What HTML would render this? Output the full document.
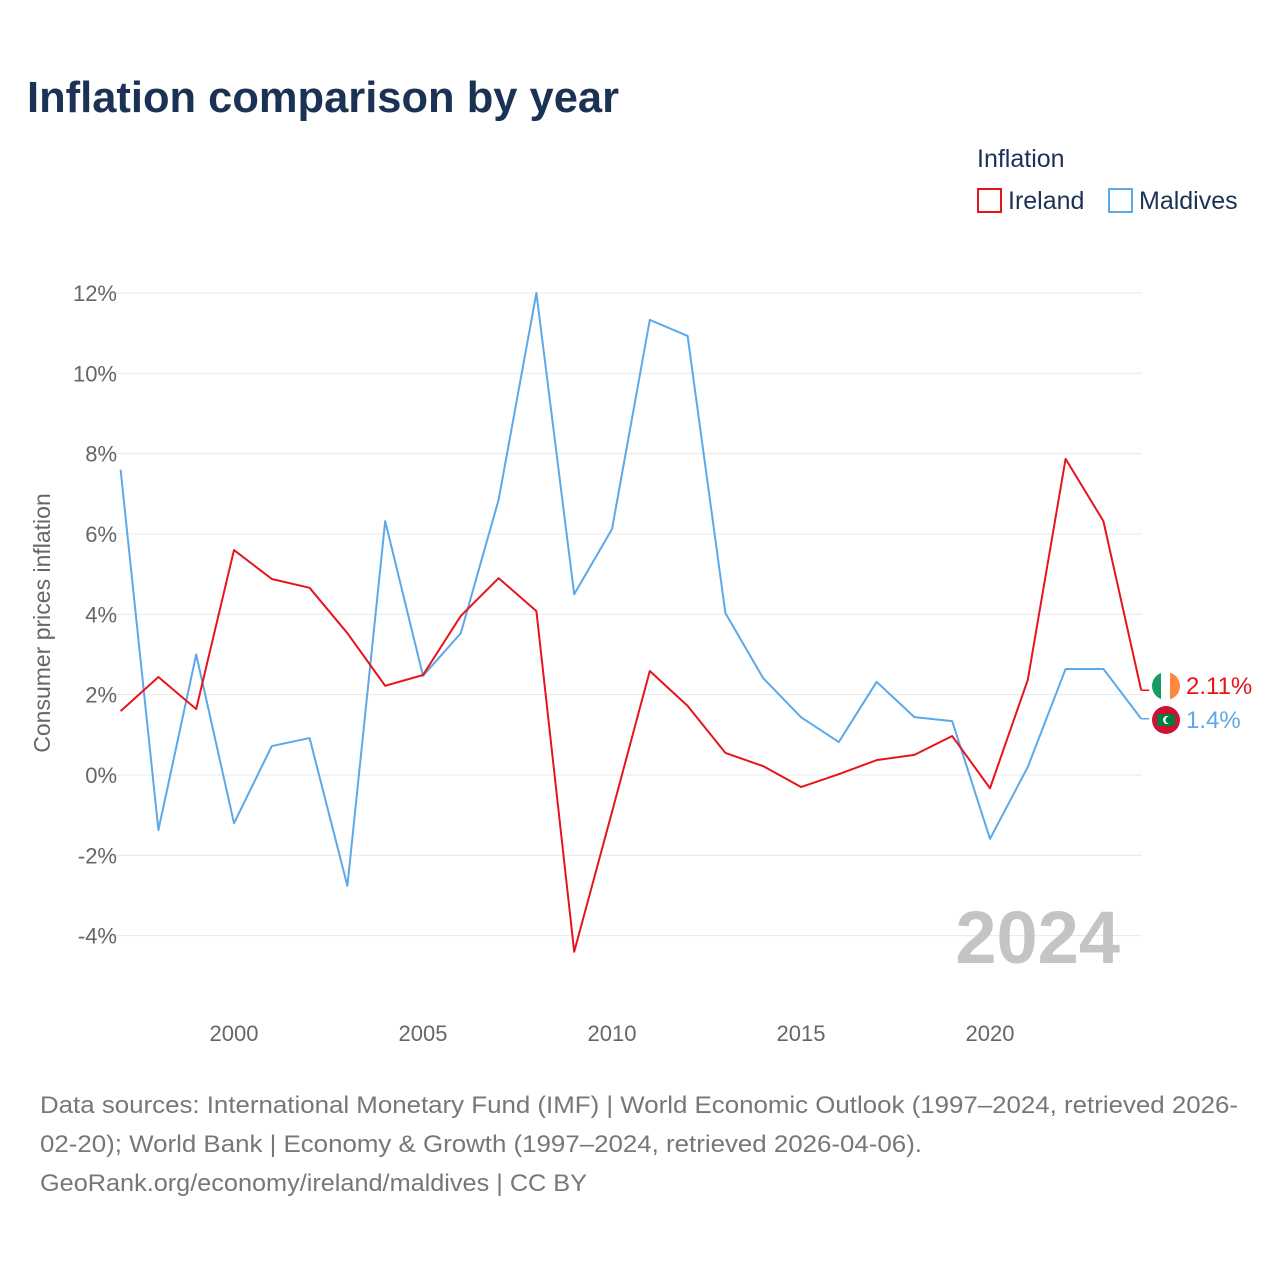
<!DOCTYPE html>
<html><head><meta charset="utf-8"><style>
body{margin:0;background:#fff;font-family:"Liberation Sans",sans-serif;}
</style></head><body>
<svg width="1280" height="1280" viewBox="0 0 1280 1280" xmlns="http://www.w3.org/2000/svg">
<text x="27" y="112" font-size="44" font-weight="bold" fill="#1b3254" textLength="592" lengthAdjust="spacingAndGlyphs">Inflation comparison by year</text>
<text x="977" y="167" font-size="25" fill="#1b3254">Inflation</text>
<g><rect x="978" y="189" width="23" height="23" fill="none" stroke="#e8141c" stroke-width="2"/><text x="1008" y="209" font-size="25" fill="#1b3254">Ireland</text></g>
<g><rect x="1109" y="189" width="23" height="23" fill="none" stroke="#5ca8e8" stroke-width="2"/><text x="1139" y="209" font-size="25" fill="#1b3254">Maldives</text></g>
<g id="grid"></g><g id="yticks"></g><g id="xticks"></g>
<text x="0" y="0" transform="translate(50,623) rotate(-90)" text-anchor="middle" font-size="23" fill="#666">Consumer prices inflation</text>
<text x="1120" y="963" text-anchor="end" font-size="74" font-weight="bold" fill="#c4c4c4">2024</text>
<g id="series"></g>
<g><clipPath id="c1"><circle cx="1166" cy="686" r="14"/></clipPath><g clip-path="url(#c1)"><rect x="1152" y="672" width="10" height="28" fill="#169b62"/><rect x="1161" y="672" width="10" height="28" fill="#fff"/><rect x="1170" y="672" width="10" height="28" fill="#ff883e"/></g></g>
<g><circle cx="1166" cy="720" r="14" fill="#d21034"/><rect x="1157" y="714" width="18" height="12" fill="#007e3a"/><circle cx="1167" cy="720" r="4" fill="#fff"/><circle cx="1169" cy="720" r="3.5" fill="#007e3a"/></g>
<text x="1186" y="694" font-size="24" fill="#e8141c">2.11%</text>
<text x="1186" y="728" font-size="24" fill="#5ca8e8">1.4%</text>
<text font-size="24" fill="#777"><tspan x="40" y="1113" textLength="1198" lengthAdjust="spacingAndGlyphs">Data sources: International Monetary Fund (IMF) | World Economic Outlook (1997–2024, retrieved 2026-</tspan><tspan x="40" y="1152" textLength="882" lengthAdjust="spacingAndGlyphs">02-20); World Bank | Economy &amp; Growth (1997–2024, retrieved 2026-04-06).</tspan><tspan x="40" y="1191" textLength="547" lengthAdjust="spacingAndGlyphs">GeoRank.org/economy/ireland/maldives | CC BY</tspan></text>
</svg>
<script>
const years=[1997,1998,1999,2000,2001,2002,2003,2004,2005,2006,2007,2008,2009,2010,2011,2012,2013,2014,2015,2016,2017,2018,2019,2020,2021,2022,2023,2024];
const ireland=[1.59,2.44,1.64,5.6,4.88,4.66,3.53,2.22,2.49,3.96,4.9,4.08,-4.4,-0.92,2.59,1.72,0.55,0.22,-0.3,0.02,0.37,0.5,0.97,-0.33,2.37,7.87,6.32,2.11];
const maldives=[7.6,-1.37,3.0,-1.2,0.72,0.92,-2.76,6.32,2.47,3.53,6.85,12.0,4.5,6.12,11.33,10.93,4.03,2.41,1.44,0.82,2.32,1.44,1.34,-1.59,0.2,2.64,2.64,1.4];
const yTicks=[-4,-2,0,2,4,6,8,10,12];
const xTicks=[2000,2005,2010,2015,2020];
const NS="http://www.w3.org/2000/svg";
const x=v=>120.6+(v-1997)*37.8;
const y=v=>775-v*40.17;
function mk(t,a,p){const e=document.createElementNS(NS,t);for(const k in a)e.setAttribute(k,a[k]);document.getElementById(p).appendChild(e);return e;}
yTicks.forEach(t=>{
 const l=mk('line',{x1:100,x2:1142,y1:y(t),y2:y(t),stroke:'#e8e8e8','stroke-width':1},'grid');
 
 
 const tx=mk('text',{x:117,y:y(t)+8,'text-anchor':'end','font-size':22,fill:'#666'},'yticks');
 tx.textContent=t+'%';
 
 
});
xTicks.forEach(t=>{
 const tx=mk('text',{x:x(t),y:1041,'text-anchor':'middle','font-size':22,fill:'#666'},'xticks');
 tx.textContent=t;
 
 
});
[[maldives,'#5ca8e8','line-maldives'],[ireland,'#e8141c','line-ireland']].forEach(([d,c,n])=>{
 const p=mk('polyline',{points:d.map((v,i)=>x(years[i])+','+y(v)).join(' '),fill:'none',stroke:c,'stroke-width':2,'stroke-linejoin':'round'},'series');
 
 
 const last=d[d.length-1];
 const t=mk('line',{x1:x(2024),x2:x(2024)+8,y1:y(last),y2:y(last),stroke:c,'stroke-width':1.5},'series');
 
 
});
</script>
</body></html>
